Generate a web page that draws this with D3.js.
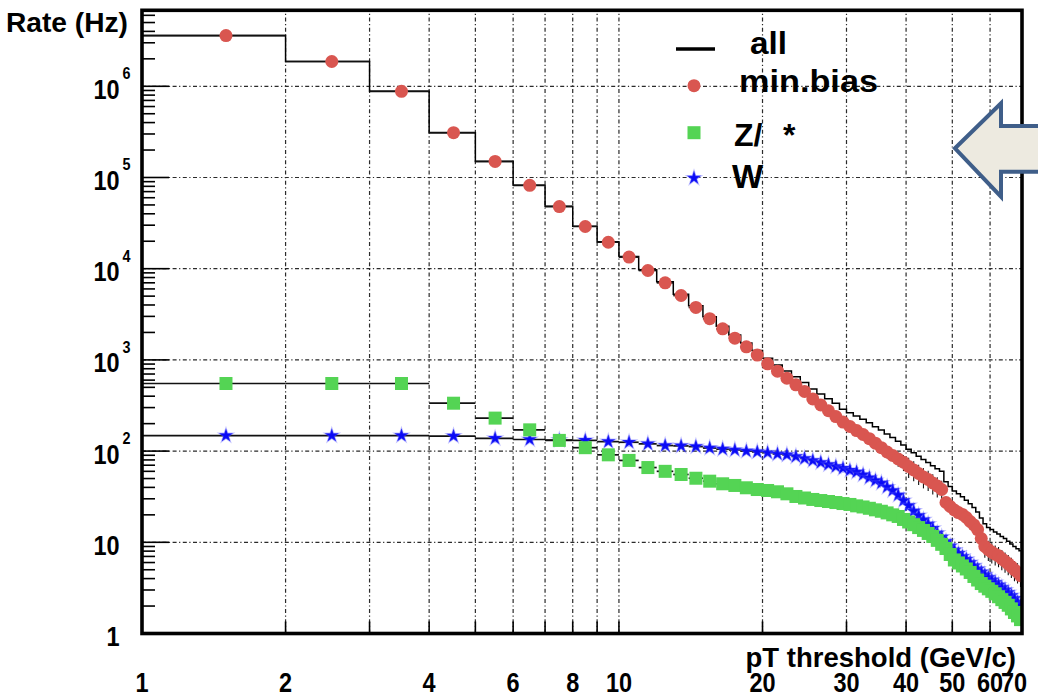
<!DOCTYPE html>
<html>
<head>
<meta charset="utf-8">
<script src="https://cdn.jsdelivr.net/npm/d3@7"></script>
<style>
  html, body { margin: 0; padding: 0; background: #fff; }
  svg { display: block; }
  text { font-family: "Liberation Sans", Arial, Helvetica, sans-serif; font-weight: bold; fill: #000; }
</style>
</head>
<body>
<svg id="chart" width="1038" height="698"></svg>
<script>
// pT threshold bin edges (GeV/c)
const binEdges = [1, 2, 3, 4, 5, 6, 7, 8, 9, 10,
  11, 12, 13, 14, 15, 16, 17, 18, 19, 20,
  21, 22, 23, 24, 25, 26, 27, 28, 29, 30,
  31, 32, 33, 34, 35, 36, 37, 38, 39, 40,
  41, 42, 43, 44, 45, 46, 47, 48, 49, 50,
  51, 52, 53, 54, 55, 56, 57, 58, 59, 60,
  61, 62, 63, 64, 65, 66, 67, 68, 69, 70];

// Trigger rate above threshold (Hz), one value per bin
const minBias = [3.6e6, 1.87e6, 8.8e5, 3.1e5, 1.5e5, 8.2e4, 4.8e4, 2.9e4, 1.95e4, 1.34e4,
  9550, 7000, 5080, 3760, 2830, 2190, 1730, 1390, 1130, 906,
  752, 630, 533, 451, 373, 320, 277, 239, 208, 186,
  168, 152, 137, 122, 109, 97.8, 89.5, 81.9, 75.5, 67.8,
  62.1, 56.8, 52, 48.8, 44.7, 41.4, 37.9, 27.3, 24.7, 22.6,
  21.2, 20.2, 18.7, 16.9, 15.5, 13.8, 11, 9.0, 8.3, 7.8,
  7.4, 7.1, 6.6, 6.2, 5.8, 5.4, 5.0, 4.7, 4.3];

// relative statistical error of the min.bias sample
const minBiasErr = [0.02, 0.02, 0.02, 0.02, 0.02, 0.02, 0.02, 0.02, 0.02, 0.02,
  0.03, 0.03, 0.03, 0.03, 0.03, 0.03, 0.03, 0.03, 0.03, 0.03,
  0.04, 0.04, 0.04, 0.04, 0.04, 0.05, 0.05, 0.05, 0.05, 0.06,
  0.06, 0.07, 0.08, 0.1, 0.12, 0.15, 0.15, 0.18, 0.2, 0.25,
  0.25, 0.25, 0.25, 0.25, 0.25, 0.25, 0.25, 0.12, 0.12, 0.12,
  0.12, 0.12, 0.12, 0.12, 0.12, 0.12, 0.15, 0.25, 0.25, 0.25,
  0.25, 0.25, 0.25, 0.25, 0.25, 0.25, 0.25, 0.25, 0.25];

const zGamma = [551, 551, 551, 335, 230, 171, 131, 109, 91, 79,
  66, 60, 55.4, 50.4, 46.8, 43.8, 42, 39.6, 37.9, 37,
  35.8, 34, 31.8, 30.6, 29.5, 28.7, 28, 27.3, 26.6, 26,
  25.1, 24.4, 23.6, 22.7, 21.9, 21, 20, 19.2, 17.8, 16.7,
  15.6, 14.5, 13.5, 12.5, 11.6, 10.5, 9.5, 8.55, 7.35, 6.4,
  5.93, 5.5, 5.1, 4.67, 4.22, 3.86, 3.53, 3.3, 3.09, 2.9,
  2.72, 2.53, 2.35, 2.19, 2.04, 1.86, 1.70, 1.56, 1.42];

const wBoson = [148, 148, 148, 146, 138, 134, 132, 131, 127, 125,
  120, 115, 114, 112, 108, 105, 103, 100, 98, 96,
  93, 91, 87.3, 83, 78.9, 75, 71.3, 67.8, 64.8, 61.5,
  59, 55, 51, 47.6, 44.7, 40.4, 37, 33, 28.7, 25.3,
  22, 19.7, 17.6, 15.9, 14.2, 12.6, 11.4, 10.2, 9.1, 8.2,
  7.57, 7.0, 6.53, 6.0, 5.52, 5.08, 4.71, 4.39, 4.11, 3.85,
  3.62, 3.4, 3.19, 3.0, 2.82, 2.61, 2.42, 2.21, 2.03];

const allRate = [3.6e6, 1.87e6, 8.81e5, 3.1e5, 1.5e5, 8.23e4, 4.83e4, 2.92e4, 1.97e4, 1.36e4,
  9740, 7180, 5250, 3920, 2980, 2340, 1880, 1530, 1270, 1040,
  880, 755, 652, 565, 481, 424, 376, 334, 288, 263,
  243, 223, 204, 185, 170, 154, 141, 128, 117, 105,
  96, 88, 81, 75, 69, 64, 60, 46, 41, 36.5,
  34, 31.5, 29, 26.5, 24, 21.5, 18.5, 16, 14.5, 13.8,
  13, 12.3, 11.6, 11, 10.3, 9.6, 9.0, 8.5, 8.1];

// axis decorations
const xTickLabels = [1, 2, 4, 6, 8, 10, 20, 30, 40, 50, 60, 70];
const xGridValues = [2, 3, 4, 5, 6, 7, 8, 9, 10, 20, 30, 40, 50, 60];
const yDecades = [1, 10, 100, 1e3, 1e4, 1e5, 1e6];
const yMinorFactors = [2, 3, 4, 5, 6, 7, 8, 9];

const legendItems = ["all", "min.bias", "Z/γ*", "W"];

const svg = d3.select("#chart");
const frame = { left: 142, right: 1022, top: 10.3, bottom: 633.5 };

const x = d3.scaleLog().domain([1, 70]).range([frame.left, frame.right]);
const y = d3.scaleLog().domain([1, 6.81e6]).range([frame.bottom, frame.top]);

const bins = binEdges.slice(0, -1).map((lo, i) => ({
  lo, hi: binEdges[i + 1], mid: (lo + binEdges[i + 1]) / 2
}));

// narrow digit labels, as in the original canvas font
const digitSqueeze = 0.87;
function digitText(g, px, py, anchor, size, str) {
  return g.append("text")
    .attr("transform", `translate(${px},${py}) scale(${digitSqueeze},1)`)
    .attr("text-anchor", anchor).attr("font-size", size).text(str);
}

svg.append("rect").attr("width", 1038).attr("height", 698).attr("fill", "#fff");

svg.append("clipPath").attr("id", "plotClip")
  .append("rect")
  .attr("x", frame.left).attr("y", frame.top)
  .attr("width", frame.right - frame.left).attr("height", frame.bottom - frame.top);

// grid
const grid = svg.append("g").attr("stroke", "#2a2a2a").attr("stroke-width", 1.2)
  .attr("stroke-dasharray", "4 2.5 1.2 2.5").attr("fill", "none");
grid.selectAll("line.gx").data(xGridValues).join("line")
  .attr("x1", d => x(d)).attr("x2", d => x(d))
  .attr("y1", frame.bottom).attr("y2", frame.top);
grid.selectAll("line.gy").data(yDecades.slice(1)).join("line")
  .attr("y1", d => y(d)).attr("y2", d => y(d))
  .attr("x1", frame.left).attr("x2", frame.right);

// ticks
const ticks = svg.append("g").attr("stroke", "#000").attr("stroke-width", 1.6);
ticks.selectAll("line.tx").data(xGridValues).join("line")
  .attr("x1", d => x(d)).attr("x2", d => x(d))
  .attr("y1", frame.bottom).attr("y2", frame.bottom - 12);
const minorY = [];
yDecades.forEach(d => yMinorFactors.forEach(f => { if (d * f < y.domain()[1]) minorY.push(d * f); }));
ticks.selectAll("line.tym").data(minorY).join("line")
  .attr("y1", d => y(d)).attr("y2", d => y(d))
  .attr("x1", frame.left).attr("x2", frame.left + 13);
ticks.selectAll("line.tyM").data(yDecades.slice(1)).join("line")
  .attr("y1", d => y(d)).attr("y2", d => y(d))
  .attr("x1", frame.left).attr("x2", frame.left + 27);

const plot = svg.append("g").attr("clip-path", "url(#plotClip)");

// "all" step histogram
const stepPts = bins.map((b, i) => [x(b.lo), y(allRate[i])]);
stepPts.push([x(binEdges[binEdges.length - 1]), y(allRate[allRate.length - 1])]);
plot.append("path")
  .attr("d", d3.line().curve(d3.curveStepAfter)(stepPts))
  .attr("fill", "none").attr("stroke", "#000").attr("stroke-width", 1.5);

// horizontal (bin width) error bars of each sample
function xBars(values) {
  plot.append("g").selectAll("line").data(bins).join("line")
    .attr("x1", d => x(d.lo)).attr("x2", d => x(d.hi))
    .attr("y1", (d, i) => y(values[i])).attr("y2", (d, i) => y(values[i]))
    .attr("stroke", "#111").attr("stroke-width", 1.7);
}
xBars(wBoson);
xBars(zGamma);
xBars(minBias);

// vertical statistical error bars of min.bias
plot.append("g").selectAll("line").data(bins).join("line")
  .attr("x1", d => x(d.mid)).attr("x2", d => x(d.mid))
  .attr("y1", (d, i) => y(minBias[i] * (1 + minBiasErr[i])))
  .attr("y2", (d, i) => y(minBias[i] * (1 - minBiasErr[i])))
  .attr("stroke", "#111").attr("stroke-width", 1.1);

const starPath = d3.symbol(d3.symbolStar).size(62)();
const wColor = "#0a0af5", zColor = "#54d454", mbColor = "#d95650";

// W markers
plot.append("g").selectAll("path").data(bins).join("path")
  .attr("d", starPath)
  .attr("transform", (d, i) => `translate(${x(d.mid)},${y(wBoson[i])})`)
  .attr("fill", wColor).attr("stroke", "rgba(80,80,255,0.35)").attr("stroke-width", 1.5);

// Z/gamma* markers
plot.append("g").selectAll("rect").data(bins).join("rect")
  .attr("x", d => x(d.mid) - 6.5).attr("y", (d, i) => y(zGamma[i]) - 6.5)
  .attr("width", 13).attr("height", 13)
  .attr("fill", zColor);

// min.bias markers
plot.append("g").selectAll("circle").data(bins).join("circle")
  .attr("cx", d => x(d.mid)).attr("cy", (d, i) => y(minBias[i]))
  .attr("r", 6.5).attr("fill", mbColor);

// frame
svg.append("rect")
  .attr("x", frame.left).attr("y", frame.top)
  .attr("width", frame.right - frame.left).attr("height", frame.bottom - frame.top)
  .attr("fill", "none").attr("stroke", "#000").attr("stroke-width", 3.6);

// y labels
const yl = svg.append("g");
yDecades.forEach(d => {
  const yy = y(d);
  const exp = Math.round(Math.log10(d));
  const main = exp === 0 ? "1" : "10";
  digitText(yl, 119.5, yy + 12.6, "end", 27, main);
  if (exp >= 2) digitText(yl, 122.5, yy - 7, "start", 16.5, exp);
});
svg.append("text").attr("x", 6).attr("y", 32).attr("font-size", 27)
  .attr("textLength", 122).attr("lengthAdjust", "spacingAndGlyphs").text("Rate (Hz)");

// x labels (the last one is kept inside the canvas, right-aligned)
const xl = svg.append("g");
xTickLabels.forEach((d, i) => {
  const last = i === xTickLabels.length - 1;
  digitText(xl, last ? x(d) + 5 : x(d), 691.5, last ? "end" : "middle", 27, d);
});
svg.append("text").attr("x", 1016).attr("y", 667).attr("text-anchor", "end")
  .attr("font-size", 27.5).text("pT threshold (GeV/c)");

// legend
const lg = svg.append("g");
lg.append("line").attr("x1", 676).attr("x2", 715).attr("y1", 49).attr("y2", 49)
  .attr("stroke", "#000").attr("stroke-width", 3.5);
lg.append("text").attr("x", 750).attr("y", 54).attr("font-size", 32)
  .attr("textLength", 37).attr("lengthAdjust", "spacingAndGlyphs").text(legendItems[0]);
lg.append("circle").attr("cx", 694).attr("cy", 85.7).attr("r", 6.5).attr("fill", mbColor);
lg.append("text").attr("x", 739).attr("y", 92).attr("font-size", 32)
  .attr("textLength", 139).attr("lengthAdjust", "spacingAndGlyphs").text(legendItems[1]);
lg.append("rect").attr("x", 687.5).attr("y", 126.2).attr("width", 13).attr("height", 13).attr("fill", zColor);
lg.append("text").attr("x", 734).attr("y", 146).attr("font-size", 32).text("Z/");
lg.append("text").attr("x", 783).attr("y", 146).attr("font-size", 32).text("*");
lg.append("path").attr("d", starPath).attr("transform", "translate(694,178)")
  .attr("fill", wColor).attr("stroke", "rgba(80,80,255,0.35)").attr("stroke-width", 1.5);
lg.append("text").attr("x", 732).attr("y", 188).attr("font-size", 33).text(legendItems[3]);

// block arrow pointing at the legend
svg.append("path")
  .attr("d", "M955,148.3 L1001,103.3 L1001,126 L1048,126 L1048,171.7 L1001,171.7 L1001,196.7 Z")
  .attr("fill", "#edeae0").attr("stroke", "#3f5e89").attr("stroke-width", 4)
  .attr("stroke-linejoin", "miter");
</script>
</body>
</html>
